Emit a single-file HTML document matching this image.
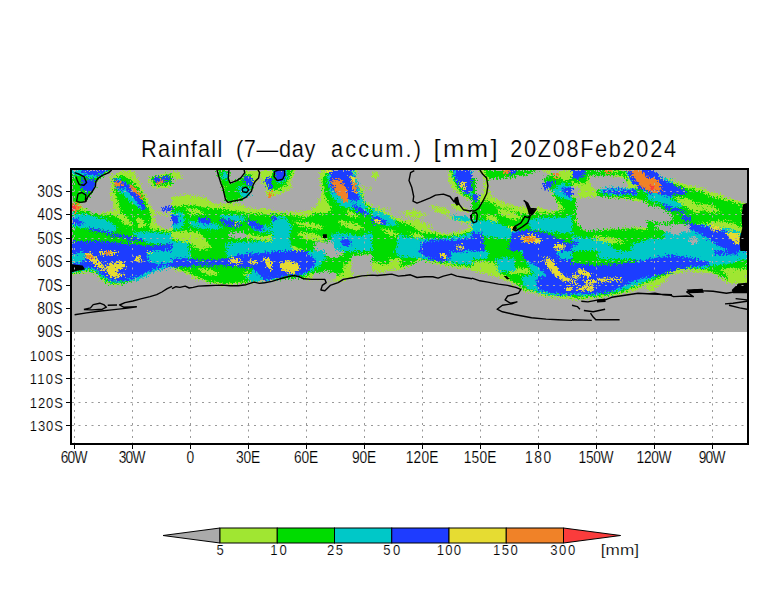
<!DOCTYPE html><html><head><meta charset="utf-8"><style>html,body{margin:0;padding:0;background:#fff;width:784px;height:612px;overflow:hidden}</style></head><body><svg width="784" height="612" viewBox="0 0 784 612" style="display:block"><rect width="784" height="612" fill="#fff"/><rect x="72" y="170" width="675" height="161.8" fill="#aaaaaa"/><svg x="72" y="170" width="675" height="162" viewBox="72 170 675 162" overflow="hidden"><defs><filter id="sp" x="-5%" y="-5%" width="110%" height="110%" filterUnits="objectBoundingBox"><feTurbulence type="fractalNoise" baseFrequency="0.6" numOctaves="2" seed="3" result="n"/><feDisplacementMap in="SourceGraphic" in2="n" scale="9" xChannelSelector="R" yChannelSelector="G"/></filter></defs><rect x="72" y="170" width="675" height="162" fill="#aaaaaa"/><g filter="url(#sp)"><path d="M72.0,170.0 111.7,170.0 96.1,181.6 95.3,186.9 90.5,195.1 85.9,200.4 79.9,205.1 82.6,207.7 90.5,210.3 98.5,212.6 106.4,212.1 115.7,209.7 111.7,199.1 110.4,191.2 111.7,184.6 110.6,176.6 122.3,171.3 132.8,170.0 135.5,175.3 143.4,191.2 148.7,201.7 154.0,212.3 161.9,213.7 172.0,212.3 172.0,251.0 72.0,251.0ZM148.7,177.9 161.9,174.0 172.0,172.6 172.0,187.2 161.9,188.5 151.4,187.2ZM172.0,172.6 177.3,171.3 182.6,175.3 179.9,179.3 172.0,177.9ZM172.0,196.5 187.9,195.1 205.1,197.8 215.7,204.4 227.6,203.1 240.8,204.4 251.4,208.4 264.6,208.4 272.0,209.7 272.0,251.0 172.0,251.0ZM217.0,170.0 259.3,170.0 258.6,177.9 253.3,184.6 251.4,191.2 246.1,197.1 240.8,199.8 228.2,202.4 225.6,199.8 222.9,187.9 218.3,175.3ZM259.3,170.0 272.0,170.0 272.0,197.8 264.6,196.5 261.9,185.9ZM272.0,170.0 295.8,170.0 291.8,177.9 290.5,189.8 279.9,193.8 272.0,196.5ZM272.0,211.0 285.2,212.3 298.5,212.3 311.7,209.7 318.3,203.1 322.3,191.2 319.6,177.9 320.9,170.0 356.7,170.0 356.7,184.6 364.6,188.5 372.0,188.5 372.0,251.0 272.0,251.0ZM372.0,207.0 385.2,208.4 398.5,212.3 411.7,213.7 419.6,220.3 427.6,228.2 438.1,232.2 451.4,233.5 464.6,229.5 472.0,225.6 472.0,251.0 372.0,251.0ZM372.0,172.6 378.6,172.6 377.3,177.9 372.0,177.9ZM448.7,170.0 472.0,170.0 472.0,200.4 463.3,197.8 454.0,189.8 448.7,180.6ZM472.0,170.0 572.0,170.0 572.0,251.0 472.0,251.0ZM572.0,170.0 672.0,170.0 672.0,251.0 572.0,251.0ZM647.0,170.0 652.3,170.0 660.2,175.3 673.5,180.6 686.7,184.6 706.5,189.8 721.1,195.1 731.7,199.1 739.6,201.7 747.0,203.1 747.0,251.0 647.0,251.0ZM72.0,251.0 172.0,251.0 172.0,263.6 164.6,265.6 156.7,268.2 147.4,272.2 138.1,277.5 127.6,281.4 119.6,284.7 111.7,285.7 106.4,284.1 99.8,278.8 95.8,273.5 89.2,272.2 79.9,273.5 72.0,274.8ZM172.0,251.0 272.0,251.0 272.0,280.8 258.0,281.4 251.4,282.7 238.1,284.1 222.3,284.7 209.0,282.7 198.5,279.4 187.9,274.8 179.9,270.8 172.0,269.5ZM272.0,251.0 372.0,251.0 372.0,274.1 361.9,275.5 354.0,277.5 343.4,279.4 338.1,281.4 330.2,281.4 324.9,279.4 311.7,279.4 303.7,278.8 299.8,276.8 293.2,275.5 287.9,276.8 279.9,278.8 272.0,281.4ZM372.0,251.0 472.0,251.0 472.0,269.5 458.0,268.2 446.1,265.6 431.5,262.9 419.6,260.3 411.7,265.6 401.1,269.5 391.8,269.5 382.6,272.2 372.0,270.8ZM472.0,251.0 572.0,251.0 572.0,298.6 564.6,298.9 551.4,297.3 538.1,294.7 524.9,290.7 515.7,285.4 509.0,281.4 498.5,277.5 485.2,273.5 472.0,270.8ZM572.0,251.0 672.0,251.0 672.0,272.2 664.6,276.1 651.4,282.7 638.1,289.4 624.9,293.3 611.7,296.0 598.5,298.0 585.2,299.3 572.0,299.9ZM647.0,251.0 747.0,251.0 747.0,282.7 739.6,284.1 726.4,282.7 721.1,277.5 713.1,273.5 699.9,272.2 686.7,270.8 673.5,273.5 665.5,280.1 654.9,289.4 647.0,292.0Z" fill="#a0e632"/><path d="M146.1,189.8 156.7,189.8 164.6,196.5 164.6,208.4 154.0,208.4 148.7,199.1ZM85.2,209.7 94.5,209.7 105.1,213.0 91.8,213.7ZM154.0,215.0 164.6,215.0 172.0,217.6 172.0,229.5 161.9,228.2 155.3,222.9ZM254.0,183.2 264.6,184.6 267.2,196.5 264.6,208.4 256.7,209.7 254.0,203.1ZM228.9,170.0 243.4,170.0 245.4,173.3 240.8,178.6 235.5,181.2 230.2,183.2 228.6,177.9ZM363.3,189.8 372.0,189.8 372.0,204.4 364.6,201.7ZM315.7,241.4 332.8,241.4 335.5,251.0 314.3,251.0ZM379.9,208.4 398.5,212.3 411.7,215.0 415.7,220.3 405.1,220.3 391.8,215.0ZM472.0,170.0 479.3,170.0 482.6,175.3 485.2,180.6 483.9,192.5 477.3,196.5 472.0,195.1ZM489.2,179.3 505.1,177.9 524.9,175.3 540.8,170.0 551.4,175.3 546.1,185.9 554.0,196.5 559.3,209.7 551.4,211.0 538.1,207.0 530.2,209.7 524.9,207.0 518.3,207.0 505.1,203.1 491.8,196.5 487.9,185.9ZM551.4,170.0 561.9,170.0 556.7,174.0 551.4,174.0ZM589.2,175.3 606.4,175.3 624.9,177.9 628.9,187.2 611.7,189.8 591.8,188.5ZM574.6,197.8 598.5,196.5 624.9,199.1 643.4,201.7 654.0,209.7 664.6,213.7 672.0,217.6 672.0,232.2 658.0,228.2 640.8,226.9 624.9,228.2 605.1,229.5 585.2,232.2 577.3,222.9ZM654.0,170.0 672.0,170.0 672.0,177.9 661.9,177.9ZM572.0,185.9 579.9,188.5 577.3,196.5 572.0,195.1ZM723.7,209.7 736.9,212.3 738.3,218.9 729.0,217.6ZM322.3,251.0 343.4,251.0 340.8,256.3 330.2,258.9 322.3,256.3ZM351.4,256.3 364.6,255.0 372.0,253.6 372.0,273.5 361.9,274.8 354.0,276.1 348.7,270.8 351.4,264.2ZM314.3,272.2 327.6,270.8 338.1,274.8 332.8,281.4 324.9,279.4 311.7,279.4ZM507.7,268.2 527.6,268.2 530.2,272.8 509.0,273.5Z" fill="#aaaaaa"/><path d="M72.0,170.0 111.7,170.0 96.1,181.6 95.3,186.9 90.5,195.1 85.9,200.4 77.3,203.1 72.0,202.4ZM113.0,177.9 122.3,175.3 130.2,179.3 138.1,187.2 143.4,196.5 147.4,205.7 151.4,215.0 148.7,230.8 135.5,226.9 127.6,218.9 119.6,209.7 117.0,199.1 114.3,189.8ZM72.0,209.7 82.6,209.7 91.8,213.7 111.7,215.0 127.6,220.3 146.1,228.2 172.0,232.2 172.0,251.0 72.0,251.0ZM151.4,177.9 163.3,175.3 172.0,174.0 172.0,184.6 163.3,185.2 154.0,185.9ZM217.0,170.0 228.9,170.0 228.2,177.9 230.2,183.2 222.9,187.9 218.3,175.3ZM230.2,183.2 240.8,179.3 246.1,172.6 251.4,175.3 253.3,184.6 251.4,191.2 246.1,197.1 240.8,199.8 228.2,202.4 225.6,199.8 223.6,189.8ZM172.0,207.0 191.8,205.1 211.7,209.0 224.9,209.0 246.1,213.0 264.6,214.3 272.0,215.6 272.0,251.0 172.0,251.0ZM272.0,170.0 291.8,170.0 290.5,176.6 285.2,185.9 278.6,189.8 272.0,189.8ZM272.0,213.7 291.8,215.0 306.4,217.6 314.3,213.7 327.6,213.7 331.5,209.7 324.9,196.5 322.3,180.6 327.6,170.0 351.4,170.0 356.7,180.6 364.6,203.1 372.0,209.7 372.0,251.0 272.0,251.0ZM372.0,209.7 391.8,218.9 411.7,225.6 418.3,230.8 431.5,233.5 446.1,236.1 458.0,234.8 472.0,230.8 472.0,251.0 372.0,251.0ZM450.0,170.0 472.0,170.0 472.0,199.1 464.6,196.5 456.7,187.2ZM485.2,170.0 540.8,170.0 524.9,175.3 505.1,177.9 489.2,179.3 485.2,175.3ZM472.0,196.5 476.0,200.4 482.6,201.7 487.9,200.4 498.5,207.0 511.7,209.7 519.6,213.7 530.2,213.7 540.8,212.3 551.4,213.7 564.6,209.7 572.0,207.0 572.0,251.0 472.0,251.0ZM543.4,177.9 551.4,175.3 564.6,180.6 572.0,177.9 572.0,207.0 564.6,209.7 559.3,203.1 551.4,191.2 546.1,185.9ZM472.0,177.9 476.0,177.9 476.0,196.5 472.0,196.5ZM572.0,170.0 601.1,170.0 611.7,172.6 624.9,170.0 627.6,183.2 622.3,175.3 611.7,175.3 589.2,175.3 585.2,183.2 577.3,183.2 572.0,180.6ZM595.8,189.8 624.9,189.8 646.1,188.5 654.0,199.1 664.6,205.7 672.0,207.0 672.0,215.0 664.6,212.3 651.4,204.4 638.1,199.1 622.3,197.8 598.5,196.5ZM572.0,196.5 576.0,199.1 576.0,222.9 585.2,232.2 572.0,233.5ZM572.0,232.2 591.8,230.8 611.7,229.5 631.5,228.2 651.4,230.8 672.0,232.2 672.0,251.0 572.0,251.0ZM647.0,170.0 652.3,170.0 660.2,177.9 680.1,185.9 699.9,191.2 715.8,197.8 731.7,201.7 742.2,204.4 742.2,228.2 733.0,222.9 721.1,220.3 706.5,222.9 686.7,225.6 666.8,222.9 647.0,221.6ZM647.0,221.6 673.5,222.9 686.7,229.5 699.9,236.1 726.4,241.4 739.6,251.0 647.0,251.0ZM72.0,251.0 172.0,251.0 172.0,265.6 164.6,267.5 156.7,270.2 147.4,274.8 138.1,278.8 127.6,282.7 119.6,283.4 111.7,284.1 106.4,282.1 100.4,277.5 95.8,272.2 89.2,270.8 79.9,272.2 72.0,273.5ZM172.0,251.0 272.0,251.0 272.0,280.8 258.0,280.8 251.4,281.7 238.1,282.7 222.3,283.4 209.0,281.7 198.5,277.5 189.2,272.2 179.9,268.9 172.0,267.5ZM187.9,268.2 205.1,266.9 222.3,266.9 240.8,269.5 254.0,270.8 258.0,277.5 251.4,281.4 238.1,282.7 222.3,283.4 209.0,281.7 198.5,277.5 189.2,272.2ZM272.0,251.0 322.3,251.0 330.2,258.9 340.8,256.3 346.1,251.0 372.0,251.0 372.0,253.6 351.4,256.3 348.7,264.2 346.1,273.5 338.1,274.8 327.6,270.8 311.7,273.5 303.7,277.5 272.0,280.1ZM372.0,251.0 472.0,251.0 472.0,266.9 458.0,265.6 446.1,263.6 431.5,261.6 419.6,258.9 411.7,264.2 401.1,266.9 391.8,262.9 382.6,264.2 372.0,261.6ZM472.0,251.0 572.0,251.0 572.0,296.6 551.4,295.3 538.1,292.7 524.9,288.7 515.7,283.4 509.0,278.8 501.1,273.5 498.5,264.2 485.2,261.6 472.0,261.6ZM572.0,251.0 672.0,251.0 672.0,270.8 659.3,276.1 646.1,282.7 631.5,288.0 624.9,291.3 611.7,294.0 598.5,296.6 585.2,297.3 572.0,298.0ZM647.0,251.0 747.0,251.0 747.0,269.5 733.0,268.2 726.4,277.5 729.0,281.4 721.1,276.1 706.5,269.5 686.7,268.2 673.5,270.8 660.2,277.5 647.0,282.7Z" fill="#00dc00"/><path d="M115.7,215.0 127.6,217.6 134.2,225.6 124.9,225.6ZM135.5,217.6 143.4,220.3 146.1,226.9 138.1,226.9ZM172.0,232.2 185.2,230.8 198.5,232.2 205.1,238.8 211.7,248.0 198.5,249.4 190.5,244.1 172.0,238.8ZM185.2,208.4 198.5,209.7 206.4,213.7 191.8,213.7ZM246.1,233.5 261.9,236.1 272.0,236.1 272.0,241.4 258.0,240.1 246.1,238.8ZM293.2,221.6 311.7,222.9 324.9,226.9 317.0,229.5 298.5,225.6ZM295.8,232.2 314.3,233.5 327.6,238.8 322.3,241.4 303.7,238.8ZM338.1,220.3 354.0,222.9 364.6,228.2 356.7,230.8 340.8,225.6ZM346.1,209.7 356.7,213.7 359.3,217.6 348.7,216.3ZM272.0,244.1 291.8,245.4 306.4,251.0 272.0,251.0ZM402.4,212.3 414.3,209.7 427.6,215.0 422.3,217.6 406.4,216.3ZM430.2,204.4 446.1,208.4 451.4,213.7 443.4,215.0 432.8,209.7ZM446.1,216.3 461.9,217.6 472.0,220.3 472.0,224.2 461.9,222.9ZM411.7,220.3 424.9,222.9 432.8,226.9 424.9,228.2ZM451.4,203.1 464.6,207.0 469.9,211.0 464.6,212.3 454.0,208.4ZM379.9,228.2 393.2,230.8 401.1,236.1 390.5,236.1ZM409.0,232.2 419.6,233.5 424.9,238.8 414.3,237.5ZM495.8,208.4 509.0,209.7 522.3,217.6 514.3,220.3 501.1,215.0ZM485.2,213.7 495.8,216.3 498.5,222.9 487.9,220.3ZM591.8,236.1 611.7,237.5 627.6,241.4 611.7,244.1 593.2,241.4ZM646.1,204.4 656.7,208.4 664.6,213.7 654.0,212.3ZM673.5,196.5 689.3,199.1 705.2,209.7 697.3,213.7 681.4,204.4ZM697.3,203.1 713.1,205.7 721.1,212.3 707.8,212.3ZM198.5,268.2 211.7,269.5 219.6,274.8 211.7,276.1 201.1,272.2ZM243.4,272.2 251.4,273.5 252.7,277.5 246.1,277.5ZM343.4,264.2 351.4,264.2 351.4,273.5 343.4,274.8ZM389.2,258.9 401.1,258.9 398.5,268.2 391.8,268.2ZM474.6,262.9 487.9,261.6 499.8,265.6 498.5,273.5 485.2,272.8 474.6,269.5ZM509.0,268.2 528.9,268.2 530.2,273.5 510.4,274.1ZM721.1,268.2 733.0,268.2 739.6,273.5 747.0,274.8 747.0,281.4 729.0,280.1Z" fill="#a0e632"/><path d="M72.0,213.7 87.9,215.0 105.1,218.9 111.7,222.9 118.3,229.5 111.7,232.2 98.5,229.5 85.2,228.2 72.0,226.9ZM131.5,232.2 146.1,232.2 172.0,233.5 172.0,244.1 151.4,244.1 138.1,238.8ZM113.0,179.9 119.6,178.6 126.2,183.2 134.2,191.2 140.8,200.4 144.1,208.4 140.8,209.7 132.8,203.1 123.6,195.1 115.7,188.5ZM72.0,170.0 109.0,170.0 98.5,176.6 89.2,177.9 79.9,175.3 72.0,175.3ZM172.0,212.3 182.6,212.3 185.2,222.9 179.9,229.5 172.0,229.5ZM187.9,220.3 211.7,222.9 224.9,228.2 211.7,229.5 191.8,226.9ZM217.0,215.0 238.1,215.0 246.1,217.6 243.4,221.6 224.9,218.9ZM246.1,222.9 264.6,225.6 272.0,228.2 272.0,232.2 258.0,232.2ZM172.0,241.4 187.9,242.1 189.2,251.0 172.0,251.0ZM224.9,244.1 246.1,241.4 272.0,241.4 272.0,251.0 227.6,251.0ZM222.3,172.6 227.6,172.6 227.6,180.6 222.3,177.9ZM238.1,185.9 251.4,187.2 250.0,196.5 240.8,197.8ZM272.0,215.0 285.2,217.6 291.8,225.6 289.2,238.8 293.2,251.0 272.0,251.0ZM327.6,170.0 354.0,170.0 359.3,188.5 364.6,204.4 369.9,213.7 364.6,215.0 354.0,209.7 340.8,205.7 331.5,196.5 327.6,183.2ZM331.5,233.5 346.1,233.5 359.3,236.1 372.0,232.2 372.0,251.0 331.5,251.0ZM274.6,170.0 286.6,170.0 286.6,180.6 277.3,183.2ZM372.0,208.4 382.6,212.3 393.2,218.9 398.5,225.6 385.2,225.6 372.0,222.9ZM398.5,234.8 411.7,237.5 424.9,238.8 438.1,238.8 451.4,237.5 464.6,234.8 472.0,232.2 472.0,251.0 395.8,251.0ZM451.4,170.0 472.0,170.0 472.0,195.1 464.6,193.8 456.7,183.2ZM451.4,215.0 464.6,216.3 472.0,218.9 469.9,221.6 454.0,219.6ZM472.0,220.3 485.2,220.3 498.5,222.9 511.7,228.2 519.6,230.8 514.3,238.8 498.5,238.8 485.2,236.1 472.0,236.1ZM527.6,220.3 546.1,217.6 564.6,217.6 572.0,215.0 572.0,233.5 551.4,232.2 531.5,229.5ZM551.4,189.8 561.9,183.2 572.0,185.9 572.0,200.4 564.6,199.1 556.7,196.5ZM599.8,188.5 611.7,187.2 635.5,188.5 638.1,195.1 611.7,195.1 601.1,193.8ZM624.9,170.0 654.0,170.0 661.9,177.9 672.0,180.6 672.0,204.4 661.9,201.7 651.4,195.1 640.8,189.8 630.2,180.6ZM572.0,236.1 591.8,238.8 609.0,244.1 617.0,251.0 572.0,251.0ZM632.8,244.1 651.4,238.8 672.0,238.1 672.0,251.0 630.2,251.0ZM647.0,185.9 660.2,192.5 673.5,200.4 684.0,205.7 673.5,208.4 660.2,203.1 647.0,199.1ZM664.2,233.5 689.3,226.9 702.6,224.2 721.1,226.9 739.6,232.2 747.0,233.5 747.0,251.0 664.2,251.0ZM647.0,170.0 651.0,170.0 657.6,177.9 647.0,177.9ZM72.0,251.0 172.0,251.0 172.0,267.5 164.6,268.9 156.7,270.8 147.4,275.5 138.1,279.4 127.6,281.4 119.6,282.5 111.7,282.5 106.4,280.1 100.4,275.5 95.8,270.8 89.2,269.5 79.9,270.8 72.0,272.2ZM172.0,251.0 189.2,251.0 190.5,258.9 185.2,264.2 172.0,265.6ZM224.9,251.0 272.0,251.0 272.0,258.9 238.1,258.9 227.6,256.3ZM224.9,251.0 272.0,251.0 272.0,281.4 261.9,280.8 251.4,281.4 246.1,277.5 254.0,269.5 264.6,266.9ZM272.0,251.0 324.9,251.0 324.9,260.3 314.3,269.5 303.7,275.5 287.9,276.1 272.0,280.1ZM393.2,251.0 472.0,251.0 472.0,264.2 458.0,263.6 446.1,261.6 431.5,260.3 424.9,258.9 411.7,257.6 398.5,256.3ZM472.0,251.0 487.9,251.0 487.9,258.9 472.0,258.9ZM495.8,258.9 514.3,257.6 515.7,270.8 498.5,272.2ZM519.6,251.0 572.0,251.0 572.0,296.0 551.4,294.7 538.1,292.0 524.9,288.0 520.9,277.5 534.2,274.8ZM598.5,251.0 672.0,251.0 672.0,270.8 659.3,275.5 646.1,281.4 631.5,286.7 624.9,289.4 611.7,292.7 598.5,294.7 585.2,296.0 572.0,294.7 572.0,266.9 598.5,266.9 638.1,265.6 635.5,258.9 598.5,258.9ZM647.0,251.0 747.0,251.0 747.0,258.9 726.4,264.2 713.1,265.6 706.5,268.2 686.7,267.5 673.5,269.5 660.2,274.8 647.0,278.8Z" fill="#00c8c8"/><path d="M79.9,170.0 107.7,170.0 98.5,175.3 85.2,175.3ZM81.3,179.3 94.5,179.3 95.1,187.2 91.8,191.8 85.2,192.5 81.3,188.5ZM113.0,179.3 122.3,180.6 127.6,185.9 122.3,189.8 115.7,187.2ZM124.9,183.2 130.2,184.6 138.1,193.8 143.4,203.1 146.1,209.7 142.1,209.7 135.5,200.4 127.6,191.2ZM72.0,218.9 78.6,219.2 83.9,222.9 81.3,224.9 72.0,223.6ZM87.9,228.2 98.5,229.5 114.3,233.5 130.2,236.8 143.4,239.4 144.8,241.4 130.2,240.1 114.3,236.1 98.5,232.2 89.2,230.2ZM72.0,241.4 91.8,240.8 111.7,242.1 131.5,244.1 151.4,245.4 172.0,244.1 172.0,251.0 72.0,251.0ZM161.9,207.0 172.0,206.4 172.0,210.3 163.3,211.0ZM154.0,177.9 169.9,175.3 169.9,180.6 160.6,183.9 154.0,183.9ZM172.0,215.0 177.3,215.6 178.6,222.9 174.6,224.2 172.0,222.9ZM197.1,217.6 209.0,218.3 211.7,222.9 207.7,224.2 199.8,222.9ZM219.6,218.9 230.2,220.3 242.1,224.2 239.5,227.5 230.2,226.9 222.3,223.6ZM246.1,220.3 254.0,220.9 263.3,225.6 264.6,230.2 258.0,230.2 250.0,226.2ZM243.4,176.6 251.4,176.6 252.7,185.9 246.1,184.6ZM264.6,177.9 272.0,177.9 272.0,191.2 267.2,187.2ZM328.9,170.0 351.4,170.0 355.3,180.6 358.0,192.5 360.0,199.8 354.0,201.1 346.1,198.4 335.5,193.8 329.5,185.9 330.2,175.3ZM351.4,203.1 364.6,209.7 369.9,215.0 364.6,215.6 354.0,208.4ZM274.6,170.0 285.2,170.0 284.6,179.9 276.0,180.6ZM272.0,215.0 276.0,216.3 277.3,220.3 272.0,221.6ZM340.8,238.8 351.4,240.1 350.0,246.7 342.1,245.4ZM372.0,216.3 379.9,217.6 387.9,222.9 385.2,224.9 372.0,222.9ZM454.0,170.0 469.9,170.0 472.0,175.3 472.0,191.2 467.2,193.8 459.3,188.5 455.3,177.9ZM422.3,241.4 438.1,239.4 454.0,240.1 472.0,238.1 472.0,251.0 419.6,251.0ZM472.0,232.2 482.6,233.5 485.2,251.0 472.0,251.0ZM511.7,232.2 527.6,229.5 546.1,233.5 558.0,238.8 564.6,241.4 572.0,244.1 572.0,251.0 509.0,251.0ZM472.0,193.8 478.6,195.1 478.0,200.4 472.0,200.4ZM503.7,170.0 517.0,170.0 515.7,174.0 506.4,174.0ZM543.4,183.2 554.0,180.6 551.4,188.5 543.4,189.8ZM561.9,188.5 572.0,187.2 572.0,196.5 564.6,195.1ZM602.4,189.8 635.5,189.8 638.1,194.5 611.7,193.8 603.1,193.1ZM626.2,170.0 654.0,170.0 664.6,181.9 672.0,184.6 672.0,196.5 661.9,195.1 651.4,192.5 638.1,187.9 630.2,179.3ZM572.0,240.1 577.3,240.8 577.3,245.4 572.0,245.4ZM572.0,170.0 585.2,170.0 583.9,176.6 577.3,179.3 572.0,177.9ZM647.0,170.0 652.3,170.0 660.2,177.9 673.5,184.6 686.7,191.2 684.0,195.1 666.8,193.8 647.0,193.8ZM681.4,215.0 690.7,216.3 690.7,221.6 682.7,220.9ZM686.7,222.9 702.6,225.6 721.1,229.5 739.6,236.1 747.0,238.8 747.0,251.0 729.0,251.0 715.8,244.1 699.9,233.5 686.7,228.2ZM660.2,203.1 673.5,207.0 686.7,211.0 681.4,212.3 666.8,209.7ZM83.9,251.0 146.1,251.0 148.7,261.6 158.0,264.2 172.0,262.9 172.0,265.6 156.7,268.2 147.4,272.2 138.1,276.8 127.6,280.1 119.6,280.8 111.7,280.4 106.4,278.1 100.4,274.1 96.5,269.5 89.2,267.5 82.6,268.2 72.0,269.5 72.0,263.6 78.6,262.9 85.2,260.3ZM72.0,251.0 83.9,251.0 77.3,253.6 72.0,255.0ZM172.0,258.9 185.2,258.3 205.1,260.3 224.9,258.9 238.1,255.0 251.4,253.6 272.0,252.3 272.0,279.4 264.6,280.1 259.3,274.8 251.4,268.2 238.1,266.9 224.9,265.6 211.7,265.6 198.5,265.6 185.2,266.9 172.0,267.5ZM272.0,251.0 306.4,251.0 310.4,256.3 317.0,261.6 311.7,268.2 303.7,273.5 298.5,275.1 287.9,275.5 278.6,277.5 272.0,278.8ZM418.3,251.0 448.7,251.0 451.4,256.3 446.1,261.6 438.1,261.6 424.9,256.3ZM451.4,251.0 464.6,251.0 463.3,252.3 452.7,252.3ZM522.3,251.0 556.7,251.0 559.3,258.9 572.0,258.9 572.0,294.7 551.4,293.3 538.1,289.4 535.5,280.1 546.1,274.8 538.1,266.9 527.6,261.6 522.3,256.3ZM572.0,262.9 598.5,265.6 624.9,262.9 651.4,258.9 672.0,256.3 672.0,270.8 658.0,274.1 644.8,277.5 632.8,281.4 622.3,286.7 611.7,292.0 591.8,294.0 572.0,293.3ZM647.0,258.9 673.5,255.0 689.3,257.6 706.5,261.6 710.5,265.6 686.7,267.5 673.5,270.2 660.2,275.5 647.0,277.5ZM713.1,251.0 739.6,251.0 738.3,254.3 715.8,255.0Z" fill="#1e3cff"/><path d="M234.8,222.9 238.8,222.9 238.8,225.6 234.8,225.6ZM324.9,170.0 332.8,170.0 332.8,172.6 326.2,172.6ZM350.0,175.3 354.7,177.9 357.3,193.8 354.0,193.8ZM459.3,181.9 464.6,181.9 466.6,189.8 461.9,189.8ZM374.6,218.9 382.6,220.9 381.9,222.9 374.6,222.2ZM456.7,245.4 463.3,245.4 463.3,249.4 456.7,249.4ZM519.6,236.1 532.8,234.8 542.1,241.4 535.5,244.1 522.3,241.4ZM554.0,244.1 564.6,244.1 564.6,249.4 554.0,249.4ZM509.0,225.6 514.3,226.9 514.3,230.8 510.4,230.8ZM710.5,225.6 721.1,226.9 721.1,230.8 711.8,230.2ZM726.4,232.2 739.6,233.5 742.2,241.4 736.9,244.1 729.0,238.8ZM84.6,253.6 90.5,252.3 102.4,264.2 105.1,269.5 101.1,270.8 91.8,261.6 85.2,257.6ZM105.1,265.6 111.7,262.9 120.9,261.6 126.2,264.2 124.9,268.2 117.0,269.5 118.3,274.8 117.0,278.8 110.4,277.5 106.4,270.8ZM118.3,273.5 126.2,274.1 125.6,276.1 119.0,276.1ZM98.5,251.0 117.0,251.0 115.7,255.0 99.8,254.3ZM134.2,257.0 140.8,256.3 141.4,261.6 135.5,261.6ZM146.1,251.0 152.7,251.0 152.0,253.0 146.7,253.0ZM230.2,257.6 238.1,258.9 242.1,262.9 235.5,264.2 230.2,262.2ZM248.7,260.3 255.3,260.9 258.0,264.2 251.4,264.2ZM263.3,257.6 269.9,258.9 272.0,262.9 272.0,270.8 267.2,266.9ZM279.9,262.9 289.2,260.3 298.5,264.2 299.8,269.5 293.2,274.1 286.6,272.2 279.9,268.2ZM439.5,253.6 444.8,253.6 447.4,258.9 443.4,258.9ZM543.4,256.3 551.4,258.9 561.9,273.5 569.9,278.8 569.9,281.7 561.9,280.4 551.4,272.2 546.1,264.2ZM564.6,286.7 572.0,286.1 572.0,290.7 565.3,290.7ZM576.0,269.5 582.6,269.5 591.8,274.8 590.5,277.5 579.9,274.8ZM572.0,274.8 579.9,276.1 578.6,278.8 572.0,278.8ZM583.9,280.1 595.8,280.1 595.8,284.1 585.2,285.4ZM597.1,278.8 622.3,278.1 622.3,280.4 598.5,282.1ZM576.0,286.7 594.5,286.7 593.2,290.7 577.3,290.7ZM572.0,280.8 577.3,281.4 577.3,284.1 572.0,284.1Z" fill="#e6dc32"/><path d="M114.3,182.6 120.9,181.6 122.9,184.6 118.3,186.9 114.6,186.1ZM128.9,184.6 132.8,185.9 139.5,193.1 143.4,198.4 140.8,199.1 135.5,193.1 128.9,187.2ZM155.3,181.2 164.6,179.3 163.3,183.2 156.0,184.6ZM72.0,202.4 78.6,203.1 80.6,207.7 77.3,211.7 72.0,212.6ZM268.6,192.5 272.0,191.8 272.0,196.5 269.2,196.5ZM331.5,180.6 340.8,179.3 347.4,189.8 348.7,201.7 343.4,201.7 335.5,192.5ZM351.4,180.6 355.3,181.9 356.7,192.5 354.0,192.5ZM520.9,237.5 530.2,236.1 536.8,240.1 530.2,242.1 522.3,240.1ZM502.4,170.0 510.4,170.0 509.0,173.3 503.7,173.3ZM554.0,174.0 559.3,174.0 559.3,177.9 554.0,177.9ZM628.9,170.0 640.8,170.0 651.4,180.6 660.6,185.9 660.6,192.5 651.4,191.2 640.8,187.2 634.2,177.9ZM603.7,170.0 611.7,170.0 611.7,172.6 605.1,172.6ZM647.0,177.9 654.9,177.9 660.2,183.2 660.2,192.5 652.3,192.5 647.0,189.8ZM85.2,255.0 93.2,255.6 93.2,258.9 86.6,258.3ZM103.7,251.0 110.4,251.0 110.4,254.3 105.1,254.3Z" fill="#f08228"/><path d="M72.0,204.7 76.6,204.4 78.0,207.7 75.3,210.3 72.0,211.0ZM649.6,184.6 654.9,185.9 654.9,189.8 651.0,189.8Z" fill="#fa3c3c"/><path d="M227.6,232.2 243.4,232.2 247.4,237.5 238.1,238.8 230.2,237.5ZM315.7,241.4 332.8,241.4 335.5,251.0 314.3,251.0ZM647.0,204.4 660.2,207.7 670.8,213.7 673.5,220.3 662.9,222.9 647.0,221.6ZM669.5,223.6 689.3,224.2 690.7,232.2 676.1,232.2ZM689.3,237.5 697.3,237.5 697.3,244.1 690.7,244.1ZM654.9,224.2 669.5,225.6 683.0,230.8 678.7,235.5 666.8,232.2 657.6,228.9Z" fill="#aaaaaa"/></g><path d="M322.9,234.2 326.9,234.2 326.9,238.1 322.9,238.1ZM454.7,197.8 458.0,196.5 459.3,204.4 456.7,205.7 454.0,201.7ZM469.9,215.0 472.0,213.7 472.0,221.6 470.5,220.3ZM524.2,200.7 528.2,203.7 530.2,208.4 535.5,209.4 532.8,213.7 528.9,215.0 527.6,209.7ZM513.0,227.5 515.7,225.6 517.0,228.2 515.0,230.8ZM742.9,204.4 747.0,203.1 747.0,251.0 740.3,251.0 739.6,238.8 742.2,228.2 741.6,216.3ZM72.0,264.2 82.6,265.6 85.2,269.5 77.3,270.8 72.0,272.2ZM503.7,276.1 506.4,275.9 509.7,278.8 507.1,279.4ZM595.8,299.9 605.1,298.6 605.7,301.9 597.1,302.6ZM686.7,289.4 702.6,288.7 703.9,292.7 689.3,293.3ZM738.3,283.4 747.0,282.7 747.0,293.3 733.0,293.3 731.7,290.0Z" fill="#000000"/><g stroke="#aaaaaa" stroke-width="1" stroke-dasharray="2 4.5"><line x1="72" y1="191.5" x2="747" y2="191.5"/><line x1="72" y1="214.5" x2="747" y2="214.5"/><line x1="72" y1="238.5" x2="747" y2="238.5"/><line x1="72" y1="261.5" x2="747" y2="261.5"/><line x1="72" y1="285.5" x2="747" y2="285.5"/><line x1="72" y1="308.5" x2="747" y2="308.5"/><line x1="74.5" y1="170" x2="74.5" y2="332"/><line x1="132.5" y1="170" x2="132.5" y2="332"/><line x1="190.5" y1="170" x2="190.5" y2="332"/><line x1="248.5" y1="170" x2="248.5" y2="332"/><line x1="306.5" y1="170" x2="306.5" y2="332"/><line x1="364.5" y1="170" x2="364.5" y2="332"/><line x1="422.5" y1="170" x2="422.5" y2="332"/><line x1="480.5" y1="170" x2="480.5" y2="332"/><line x1="538.5" y1="170" x2="538.5" y2="332"/><line x1="596.5" y1="170" x2="596.5" y2="332"/><line x1="654.5" y1="170" x2="654.5" y2="332"/><line x1="712.5" y1="170" x2="712.5" y2="332"/></g><path d="M111.7,170.0 108.4,172.9 102.4,175.3 97.8,178.6 95.8,181.9 95.4,186.5 92.5,191.2 88.5,195.8 86.6,199.1 85.9,201.7M78.0,193.8 81.9,192.5 85.9,195.1 85.2,201.7 79.9,202.4 76.6,201.1 78.0,193.8M74.6,172.6 78.6,174.0 83.9,176.6 86.6,182.6 83.9,185.2 79.3,184.6 77.3,180.6 76.0,176.6M217.0,170.0 218.6,176.0 220.9,183.2 222.9,187.9 224.2,193.8 225.6,199.8 228.2,202.4 232.8,201.1 240.8,199.8 246.1,197.1 251.4,191.2 253.3,184.6 255.3,181.2 258.6,177.9 259.6,172.6 258.0,170.0M228.9,170.0 228.2,178.6 230.2,183.2 236.8,180.6 240.8,177.9 244.8,172.6 244.1,170.0M242.1,188.5 246.1,187.2 248.7,189.8 246.7,192.5 242.8,191.8 242.1,188.5M274.6,171.3 278.6,170.0 284.6,170.0 284.6,175.3 282.6,179.3 277.3,180.6 274.0,176.6 274.6,171.3M414.3,170.7 410.6,172.6 409.0,180.6 411.7,187.2 413.7,196.5 413.0,201.1 417.0,203.1 420.9,201.7 430.2,197.8 435.5,195.1 443.4,194.1 450.0,196.5 454.0,201.7 456.7,197.8 459.3,204.4 463.3,209.7 469.9,211.0 472.0,210.3M479.9,170.0 482.6,174.0 486.6,177.9 487.9,185.9 486.6,193.8 482.6,201.7 478.6,208.4 474.6,211.0 472.0,211.0M472.0,213.7 476.0,212.3 477.3,215.0 476.6,221.6 473.3,222.9 472.0,220.3M523.6,200.4 527.6,203.1 530.2,208.4 536.2,209.0 532.8,213.7 527.6,217.6 524.9,216.3 520.9,222.9 514.3,226.9 513.0,229.5 515.7,230.8 522.3,226.9 527.6,222.9 530.2,216.3M172.0,286.4 167.2,288.7 161.9,292.0 156.7,294.7 150.0,296.6 140.8,298.9 132.8,301.0 124.9,302.6 119.6,305.0 123.6,307.2 136.8,306.8M74.6,314.8 86.6,312.9 98.5,311.2 111.7,309.9 127.6,308.1 136.8,306.8M83.9,309.5 90.5,307.9 93.2,304.6 99.8,303.2 103.7,304.6 106.4,307.2 102.4,309.2 91.8,309.9 83.9,309.5M107.7,305.2 117.0,305.0M172.0,288.7 176.0,286.7 179.9,287.4 185.2,286.1 189.2,288.0 193.2,287.4 198.5,286.1 206.4,285.7 215.7,285.4 222.3,285.1 230.2,285.7 238.1,285.7 246.1,284.7 254.0,282.1 259.3,283.4 264.6,282.7 272.0,281.4M272.0,281.4 279.9,278.8 287.9,276.8 293.2,275.5 299.8,276.8 303.7,278.8 311.7,279.4 324.9,279.4 326.2,282.7 322.3,285.4 320.9,290.0 324.9,290.7 330.2,285.4 338.1,282.7 343.4,279.4 354.0,277.5 361.9,275.9 372.0,275.1M372.0,275.1 377.3,275.5 385.2,274.8 391.8,274.1 398.5,276.1 405.1,275.5 410.4,274.8 417.0,277.5 424.9,276.8 432.8,276.8 438.1,278.1 443.4,276.1 451.4,274.1 456.7,276.1 464.6,277.5 472.0,278.8M472.0,278.1 479.9,280.8 487.9,282.1 498.5,284.1 507.7,285.4 515.7,287.4 520.9,289.4 518.3,293.3 507.7,296.0 505.1,299.9 510.4,303.2 517.0,301.9 511.7,303.9 502.4,305.2 497.1,309.2 502.4,311.8 514.3,314.5 531.5,317.8 546.1,319.1 558.0,319.8 572.0,320.4M581.3,301.3 587.9,301.9 598.5,299.9 605.1,299.9 611.7,297.3 624.9,295.3 638.1,293.3 651.4,294.0 672.0,294.7M572.0,305.2 577.3,306.6 579.9,309.2M583.9,310.5 593.2,311.8 605.1,309.2M590.5,313.2 593.2,317.1 595.8,319.8 619.6,319.8M572.0,319.8 591.8,320.4M647.0,294.0 654.9,293.3 662.9,294.7 670.8,295.3 673.5,296.6 686.7,296.0 693.3,296.6 686.7,292.0 694.6,290.0 702.6,290.7 713.1,291.3 726.4,293.3 734.3,292.0 747.0,290.7M725.0,303.9 733.0,303.2 747.0,301.3M729.0,305.2 739.6,307.9 747.0,309.2M735.6,298.6 747.0,299.9" fill="none" stroke="#000" stroke-width="1.4" stroke-linejoin="round"/></svg><g stroke="#999" stroke-width="1" stroke-dasharray="2 4.5" fill="none"><line x1="72" y1="355.5" x2="747" y2="355.5"/><line x1="72" y1="378.5" x2="747" y2="378.5"/><line x1="72" y1="402.5" x2="747" y2="402.5"/><line x1="72" y1="425.5" x2="747" y2="425.5"/><line x1="74.5" y1="332" x2="74.5" y2="443"/><line x1="132.5" y1="332" x2="132.5" y2="443"/><line x1="190.5" y1="332" x2="190.5" y2="443"/><line x1="248.5" y1="332" x2="248.5" y2="443"/><line x1="306.5" y1="332" x2="306.5" y2="443"/><line x1="364.5" y1="332" x2="364.5" y2="443"/><line x1="422.5" y1="332" x2="422.5" y2="443"/><line x1="480.5" y1="332" x2="480.5" y2="443"/><line x1="538.5" y1="332" x2="538.5" y2="443"/><line x1="596.5" y1="332" x2="596.5" y2="443"/><line x1="654.5" y1="332" x2="654.5" y2="443"/><line x1="712.5" y1="332" x2="712.5" y2="443"/></g><rect x="71" y="169" width="677" height="275" fill="none" stroke="#000" stroke-width="2"/><g stroke="#000" stroke-width="1"><line x1="66" y1="191.5" x2="70" y2="191.5"/><line x1="66" y1="214.5" x2="70" y2="214.5"/><line x1="66" y1="238.5" x2="70" y2="238.5"/><line x1="66" y1="261.5" x2="70" y2="261.5"/><line x1="66" y1="285.5" x2="70" y2="285.5"/><line x1="66" y1="308.5" x2="70" y2="308.5"/><line x1="66" y1="331.5" x2="70" y2="331.5"/><line x1="66" y1="355.5" x2="70" y2="355.5"/><line x1="66" y1="378.5" x2="70" y2="378.5"/><line x1="66" y1="402.5" x2="70" y2="402.5"/><line x1="66" y1="425.5" x2="70" y2="425.5"/><line x1="74.5" y1="445" x2="74.5" y2="449"/><line x1="132.5" y1="445" x2="132.5" y2="449"/><line x1="190.5" y1="445" x2="190.5" y2="449"/><line x1="248.5" y1="445" x2="248.5" y2="449"/><line x1="306.5" y1="445" x2="306.5" y2="449"/><line x1="364.5" y1="445" x2="364.5" y2="449"/><line x1="422.5" y1="445" x2="422.5" y2="449"/><line x1="480.5" y1="445" x2="480.5" y2="449"/><line x1="538.5" y1="445" x2="538.5" y2="449"/><line x1="596.5" y1="445" x2="596.5" y2="449"/><line x1="654.5" y1="445" x2="654.5" y2="449"/><line x1="712.5" y1="445" x2="712.5" y2="449"/></g><g font-family="Liberation Sans, sans-serif" fill="#000"><text transform="translate(141.00 157.00) scale(0.92 1)" x="0" y="0" font-size="23.69" textLength="88.37" lengthAdjust="spacing" stroke="#fff" stroke-width="0.2">Rainfall</text><text transform="translate(235.90 157.00) scale(0.92 1)" x="0" y="0" font-size="23.69" textLength="86.52" lengthAdjust="spacing" stroke="#fff" stroke-width="0.2">(7&#8212;day</text><text transform="translate(331.00 157.00) scale(0.92 1)" x="0" y="0" font-size="23.69" textLength="97.83" lengthAdjust="spacing" stroke="#fff" stroke-width="0.2">accum.)</text><text transform="translate(433.50 157.00) scale(1.08 1)" x="0" y="0" font-size="23.69" textLength="59.26" lengthAdjust="spacing" stroke="#fff" stroke-width="0.2">[mm]</text><text transform="translate(510.20 157.00) scale(0.92 1)" x="0" y="0" font-size="23.69" textLength="180.22" lengthAdjust="spacing" stroke="#fff" stroke-width="0.2">20Z08Feb2024</text><text transform="translate(37.20 197.10) scale(0.88 1)" x="0" y="0" font-size="15.79" textLength="28.86" lengthAdjust="spacing" stroke="#fff" stroke-width="0.15">30S</text><text transform="translate(37.20 219.97) scale(0.88 1)" x="0" y="0" font-size="15.79" textLength="28.86" lengthAdjust="spacing" stroke="#fff" stroke-width="0.15">40S</text><text transform="translate(37.20 243.84) scale(0.88 1)" x="0" y="0" font-size="15.79" textLength="28.86" lengthAdjust="spacing" stroke="#fff" stroke-width="0.15">50S</text><text transform="translate(37.20 266.71) scale(0.88 1)" x="0" y="0" font-size="15.79" textLength="28.86" lengthAdjust="spacing" stroke="#fff" stroke-width="0.15">60S</text><text transform="translate(37.20 290.58) scale(0.88 1)" x="0" y="0" font-size="15.79" textLength="28.86" lengthAdjust="spacing" stroke="#fff" stroke-width="0.15">70S</text><text transform="translate(37.20 314.45) scale(0.88 1)" x="0" y="0" font-size="15.79" textLength="28.86" lengthAdjust="spacing" stroke="#fff" stroke-width="0.15">80S</text><text transform="translate(37.20 337.32) scale(0.88 1)" x="0" y="0" font-size="15.79" textLength="28.86" lengthAdjust="spacing" stroke="#fff" stroke-width="0.15">90S</text><text transform="translate(29.75 360.84) scale(0.88 1)" x="0" y="0" font-size="14.78" textLength="37.67" lengthAdjust="spacing" stroke="#fff" stroke-width="0.15">100S</text><text transform="translate(29.75 383.71) scale(0.88 1)" x="0" y="0" font-size="14.78" textLength="37.67" lengthAdjust="spacing" stroke="#fff" stroke-width="0.15">110S</text><text transform="translate(29.75 407.58) scale(0.88 1)" x="0" y="0" font-size="14.78" textLength="37.67" lengthAdjust="spacing" stroke="#fff" stroke-width="0.15">120S</text><text transform="translate(29.75 431.45) scale(0.88 1)" x="0" y="0" font-size="14.78" textLength="37.67" lengthAdjust="spacing" stroke="#fff" stroke-width="0.15">130S</text><text transform="translate(60.70 463.20) scale(0.88 1)" x="0" y="0" font-size="15.69" textLength="30.45" lengthAdjust="spacing" stroke="#fff" stroke-width="0.15">60W</text><text transform="translate(118.70 463.20) scale(0.88 1)" x="0" y="0" font-size="15.69" textLength="30.45" lengthAdjust="spacing" stroke="#fff" stroke-width="0.15">30W</text><text transform="translate(186.40 463.20) scale(0.88 1)" x="0" y="0" font-size="15.69" textLength="19.77" lengthAdjust="spacing" stroke="#fff" stroke-width="0.15">0</text><text transform="translate(235.95 463.20) scale(0.88 1)" x="0" y="0" font-size="15.69" textLength="27.61" lengthAdjust="spacing" stroke="#fff" stroke-width="0.15">30E</text><text transform="translate(293.95 463.20) scale(0.88 1)" x="0" y="0" font-size="15.69" textLength="27.61" lengthAdjust="spacing" stroke="#fff" stroke-width="0.15">60E</text><text transform="translate(351.95 463.20) scale(0.88 1)" x="0" y="0" font-size="15.69" textLength="27.61" lengthAdjust="spacing" stroke="#fff" stroke-width="0.15">90E</text><text transform="translate(405.80 463.20) scale(0.88 1)" x="0" y="0" font-size="15.69" textLength="37.05" lengthAdjust="spacing" stroke="#fff" stroke-width="0.15">120E</text><text transform="translate(463.80 463.20) scale(0.88 1)" x="0" y="0" font-size="15.69" textLength="37.05" lengthAdjust="spacing" stroke="#fff" stroke-width="0.15">150E</text><text transform="translate(525.00 463.20) scale(0.88 1)" x="0" y="0" font-size="15.69" textLength="29.77" lengthAdjust="spacing" stroke="#fff" stroke-width="0.15">180</text><text transform="translate(578.55 463.20) scale(0.88 1)" x="0" y="0" font-size="15.69" textLength="39.89" lengthAdjust="spacing" stroke="#fff" stroke-width="0.15">150W</text><text transform="translate(636.55 463.20) scale(0.88 1)" x="0" y="0" font-size="15.69" textLength="39.89" lengthAdjust="spacing" stroke="#fff" stroke-width="0.15">120W</text><text transform="translate(698.70 463.20) scale(0.88 1)" x="0" y="0" font-size="15.69" textLength="30.45" lengthAdjust="spacing" stroke="#fff" stroke-width="0.15">90W</text><text transform="translate(216.50 555.40) scale(0.95 1)" x="0" y="0" font-size="13.81" textLength="15.79" lengthAdjust="spacing" stroke="#fff" stroke-width="0.15">5</text><text transform="translate(270.30 555.40) scale(0.95 1)" x="0" y="0" font-size="13.81" textLength="17.26" lengthAdjust="spacing" stroke="#fff" stroke-width="0.15">10</text><text transform="translate(327.00 555.40) scale(0.95 1)" x="0" y="0" font-size="13.81" textLength="16.84" lengthAdjust="spacing" stroke="#fff" stroke-width="0.15">25</text><text transform="translate(383.20 555.40) scale(0.95 1)" x="0" y="0" font-size="13.81" textLength="17.89" lengthAdjust="spacing" stroke="#fff" stroke-width="0.15">50</text><text transform="translate(436.70 555.40) scale(0.95 1)" x="0" y="0" font-size="13.81" textLength="25.58" lengthAdjust="spacing" stroke="#fff" stroke-width="0.15">100</text><text transform="translate(493.00 555.40) scale(0.95 1)" x="0" y="0" font-size="13.81" textLength="26.11" lengthAdjust="spacing" stroke="#fff" stroke-width="0.15">150</text><text transform="translate(550.20 555.40) scale(0.95 1)" x="0" y="0" font-size="13.81" textLength="26.42" lengthAdjust="spacing" stroke="#fff" stroke-width="0.15">300</text><text transform="translate(600.80 555.40) scale(1.0 1)" x="0" y="0" font-size="13.81" textLength="38.20" lengthAdjust="spacingAndGlyphs" stroke="#fff" stroke-width="0.15">[mm]</text></g><polygon points="163,535.5 220,528 220,543" fill="#aaaaaa" stroke="#000" stroke-width="1"/><rect x="220.00" y="528" width="57.25" height="15" fill="#a0e632" stroke="#000" stroke-width="1"/><rect x="277.25" y="528" width="57.25" height="15" fill="#00dc00" stroke="#000" stroke-width="1"/><rect x="334.50" y="528" width="57.25" height="15" fill="#00c8c8" stroke="#000" stroke-width="1"/><rect x="391.75" y="528" width="57.25" height="15" fill="#1e3cff" stroke="#000" stroke-width="1"/><rect x="449.00" y="528" width="57.25" height="15" fill="#e6dc32" stroke="#000" stroke-width="1"/><rect x="506.25" y="528" width="57.25" height="15" fill="#f08228" stroke="#000" stroke-width="1"/><polygon points="563.50,528 620.6,535.5 563.50,543" fill="#fa3c3c" stroke="#000" stroke-width="1"/></svg></body></html>
